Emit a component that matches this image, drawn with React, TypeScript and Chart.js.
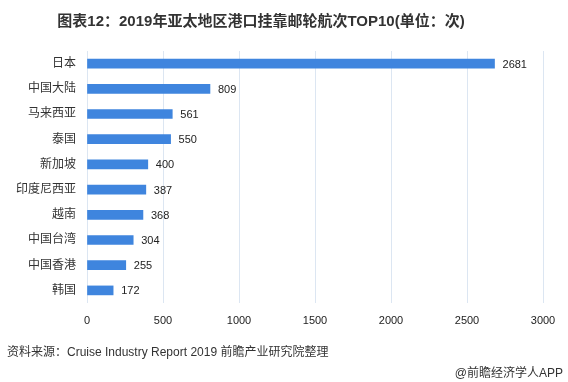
import React, { useEffect, useRef } from "react";
import { Chart, registerables } from "chart.js";

Chart.register(...registerables);

const categories = ["日本", "中国大陆", "马来西亚", "泰国", "新加坡", "印度尼西亚", "越南", "中国台湾", "中国香港", "韩国"];
const values = [2681, 809, 561, 550, 400, 387, 368, 304, 255, 172];
const xTicks = [0, 500, 1000, 1500, 2000, 2500, 3000];
const title = "图表12：2019年亚太地区港口挂靠邮轮航次TOP10(单位：次)";
const source = "资料来源：Cruise Industry Report 2019 前瞻产业研究院整理";
const credit = "@前瞻经济学人APP";

const FONT = '"Liberation Sans", "Noto Sans CJK SC", sans-serif';

const valueLabels = {
  id: "valueLabels",
  afterDatasetsDraw(chart: any) {
    const ctx = chart.ctx;
    const meta = chart.getDatasetMeta(0);
    ctx.save();
    ctx.font = `11px ${FONT}`;
    ctx.fillStyle = "#222";
    ctx.textAlign = "left";
    ctx.textBaseline = "middle";
    meta.data.forEach((bar: any, i: number) => {
      ctx.fillText(String(values[i]), bar.x + 8, bar.y + 1);
    });
    ctx.restore();
  },
};

export default function App() {
  const ref = useRef<HTMLCanvasElement>(null);
  useEffect(() => {
    document.body.style.margin = "0";
    const chart = new Chart(ref.current!, {
      type: "bar",
      data: {
        labels: categories,
        datasets: [
          {
            data: values,
            backgroundColor: "#3F85DE",
            barThickness: 9,
          },
        ],
      },
      options: {
        indexAxis: "y",
        animation: false,
        responsive: false,
        maintainAspectRatio: false,
        layout: { padding: { top: 51, right: 25, bottom: 49, left: 0 } },
        plugins: { legend: { display: false }, tooltip: { enabled: false } },
        scales: {
          x: {
            min: 0,
            max: 3000,
            afterBuildTicks(scale: any) {
              scale.ticks = xTicks.map((v) => ({ value: v }));
            },
            afterFit(scale: any) {
              scale.height = 30;
            },
            grid: { color: "#DCE6F2", drawTicks: false },
            border: { display: false },
            ticks: {
              padding: 11,
              color: "#222",
              font: { family: FONT, size: 11 },
              callback: (v: any) => String(v),
            },
          },
          y: {
            afterFit(scale: any) {
              scale.width = 87;
            },
            grid: { display: false, drawTicks: false },
            border: { display: false },
            ticks: { padding: 11, color: "#333", font: { family: FONT, size: 12 } },
          },
        },
      },
      plugins: [valueLabels],
    });
    return () => chart.destroy();
  }, []);

  return (
    <div style={{ position: "relative", width: 568, height: 382, background: "#fff", fontFamily: FONT }}>
      <canvas ref={ref} width={568} height={382} style={{ position: "absolute", left: 0, top: 0 }} />
      <div
        style={{
          position: "absolute",
          left: 0,
          top: 10,
          width: 522,
          textAlign: "center",
          fontSize: 15,
          fontWeight: "bold",
          color: "#333",
          lineHeight: "22px",
        }}
      >
        {title}
      </div>
      <div style={{ position: "absolute", left: 7, top: 343, fontSize: 12, color: "#333", lineHeight: "18px" }}>
        {source}
      </div>
      <div style={{ position: "absolute", right: 5, top: 364, fontSize: 12, color: "#333", lineHeight: "18px" }}>
        {credit}
      </div>
    </div>
  );
}
